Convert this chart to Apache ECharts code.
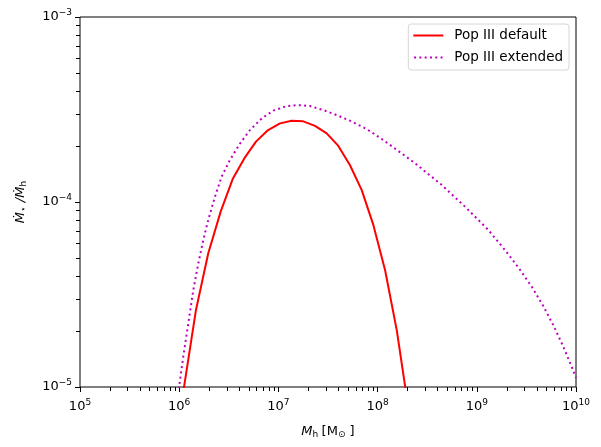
<!DOCTYPE html>
<html>
<head>
<meta charset="utf-8">
<script src="https://cdn.jsdelivr.net/npm/echarts@6/dist/echarts.min.js"></script>
<style>
  html, body { margin: 0; padding: 0; background: #fff; }
  #chart { width: 601px; height: 447px; }
</style>
</head>
<body>
<div id="chart"></div>
<script>
// halo mass [Msun] and Mdot_* / Mdot_h
var defaultMass = [9.0e5, 1.125e6, 1.476e6, 1.963e6, 2.618e6, 3.459e6, 4.529e6, 5.943e6, 7.727e6,
  1.038e7, 1.361e7, 1.782e7, 2.339e7, 3.069e7, 4.018e7, 5.272e7, 6.918e7, 9.057e7,
  1.189e8, 1.560e8, 1.888e8, 2.3e8];
var defaultRatio = [4.5e-6, 1.02e-5, 2.61e-5, 5.28e-5, 8.87e-5, 1.33e-4, 1.72e-4, 2.12e-4, 2.43e-4,
  2.66e-4, 2.75e-4, 2.73e-4, 2.58e-4, 2.35e-4, 2.01e-4, 1.58e-4, 1.16e-4, 7.52e-5,
  4.29e-5, 2.03e-5, 1.02e-5, 5.0e-6];

var extendedMass = [9.3e5, 1.002e6, 1.099e6, 1.236e6, 1.387e6, 1.560e6, 1.750e6, 1.963e6, 2.296e6,
  2.679e6, 3.251e6, 4.102e6, 5.176e6, 6.792e6, 8.892e6, 1.213e7, 1.589e7, 2.084e7,
  2.838e7, 3.873e7, 5.272e7, 7.762e7, 1.143e8, 1.750e8, 2.382e8, 4.325e8, 7.60e8,
  1.306e9, 1.968e9, 2.683e9, 3.599e9, 4.677e9, 5.900e9, 7.345e9, 8.974e9, 1.0e10];
var extendedRatio = [7.5e-6, 1.02e-5, 1.46e-5, 2.21e-5, 3.34e-5, 4.67e-5, 6.24e-5, 8.00e-5, 1.07e-4,
  1.37e-4, 1.69e-4, 2.07e-4, 2.45e-4, 2.83e-4, 3.12e-4, 3.30e-4, 3.34e-4, 3.30e-4,
  3.14e-4, 2.95e-4, 2.75e-4, 2.48e-4, 2.16e-4, 1.83e-4, 1.62e-4, 1.25e-4, 9.44e-5,
  7.06e-5, 5.42e-5, 4.36e-5, 3.47e-5, 2.74e-5, 2.16e-5, 1.68e-5, 1.30e-5, 1.12e-5];

var seriesNames = ['Pop III default', 'Pop III extended'];

// minor ticks (2..9 x each decade)
var xMinorTicks = [];
var yMinorTicks = [];
[1e5, 1e6, 1e7, 1e8, 1e9].forEach(function (d) {
  for (var k = 2; k <= 9; k++) xMinorTicks.push(k * d);
});
[1e-5, 1e-4].forEach(function (d) {
  for (var k = 2; k <= 9; k++) yMinorTicks.push(k * d);
});

var X_MIN = 1e5, X_MAX = 1e10, Y_MIN = 1e-5, Y_MAX = 1e-3;

function zip(a, b) {
  return a.map(function (v, i) { return [v, b[i]]; });
}

function powLabel(v) {
  var e = Math.round(Math.log10(v));
  var s = e < 0 ? '\u2212' + (-e) : '' + e;
  return '{b|10}{s|' + s + '}';
}

var font = 'DejaVu Sans';
var labelRich = {
  b: { fontFamily: font, fontSize: 13, color: '#000' },
  s: { fontFamily: font, fontSize: 9, color: '#000', padding: [0, 0, 8, 0] }
};

// dotted legend icon
var dots = 'path://';
for (var i = 0; i < 6; i++) {
  dots += 'M' + (i * 5.3).toFixed(1) + ',0h2v2h-2z';
}

var chart = echarts.init(document.getElementById('chart'), null, { renderer: 'canvas' });

var option = {
  backgroundColor: '#ffffff',
  animation: false,
  grid: {
    left: 80, right: 25, top: 17, bottom: 60,
    show: true, borderColor: '#000', borderWidth: 1, backgroundColor: 'transparent'
  },
  legend: {
    orient: 'vertical',
    right: 32,
    top: 24,
    itemWidth: 30,
    itemHeight: 2,
    itemGap: 7,
    padding: [4, 6, 5, 5],
    backgroundColor: '#fff',
    borderColor: '#d6d6d6',
    borderWidth: 1,
    borderRadius: 3,
    textStyle: { fontFamily: font, fontSize: 13.5, color: '#000', lineHeight: 15, padding: [0, 0, 0, 6] },
    data: [
      { name: seriesNames[0], icon: 'path://M0,0H30V2H0Z' },
      { name: seriesNames[1], icon: dots }
    ]
  },
  xAxis: {
    type: 'log', logBase: 10, min: X_MIN, max: X_MAX,
    name: '{i|M}{sub|h} {n|[M}{sub|\u2299}{n| ]}',
    nameLocation: 'middle', nameGap: 37,
    nameTextStyle: {
      rich: {
        i: { fontFamily: font, fontSize: 13, fontStyle: 'italic', color: '#000' },
        n: { fontFamily: font, fontSize: 13, color: '#000' },
        sub: { fontFamily: font, fontSize: 9, color: '#000', padding: [6, 0, 0, 0] }
      }
    },
    axisLine: { show: false },
    axisTick: { show: true, inside: false, length: 5, lineStyle: { color: '#000' } },
    axisLabel: { margin: 11, formatter: powLabel, rich: labelRich },
    splitLine: { show: false }
  },
  yAxis: {
    type: 'log', logBase: 10, min: Y_MIN, max: Y_MAX,
    name: '{i|M\u0307}{sub|\u22c6}{i| /M\u0307}{sub|h}',
    nameLocation: 'middle', nameGap: 52, nameRotate: 90,
    nameTextStyle: {
      rich: {
        i: { fontFamily: font, fontSize: 13, fontStyle: 'italic', color: '#000' },
        sub: { fontFamily: font, fontSize: 9, color: '#000', padding: [6, 0, 0, 0] }
      }
    },
    axisLine: { show: false },
    axisTick: { show: true, inside: false, length: 5, lineStyle: { color: '#000' } },
    axisLabel: { margin: 8, formatter: powLabel, rich: labelRich },
    splitLine: { show: false }
  },
  series: [{
    name: seriesNames[0],
    type: 'line',
    data: zip(defaultMass, defaultRatio),
    showSymbol: false,
    symbol: 'none',
    clip: true,
    color: '#ff0000',
    lineStyle: { color: '#ff0000', width: 2 }
  }, {
    name: seriesNames[1],
    type: 'line',
    data: zip(extendedMass, extendedRatio),
    showSymbol: false,
    symbol: 'none',
    clip: true,
    color: '#bf00bf',
    lineStyle: { color: '#bf00bf', width: 2, type: [2, 3.3], cap: 'butt' }
  }]
};

chart.setOption(option);

// minor ticks, placed through the axes' own scales
var ticks = [];
xMinorTicks.forEach(function (v) {
  var p = chart.convertToPixel({ gridIndex: 0 }, [v, Y_MIN]);
  ticks.push({ type: 'line',
    shape: { x1: Math.round(p[0]) + 0.5, y1: Math.round(p[1]), x2: Math.round(p[0]) + 0.5, y2: Math.round(p[1]) + 4 },
    style: { stroke: '#000', lineWidth: 1 } });
});
yMinorTicks.forEach(function (v) {
  var p = chart.convertToPixel({ gridIndex: 0 }, [X_MIN, v]);
  ticks.push({ type: 'line',
    shape: { x1: Math.round(p[0]) - 4, y1: Math.round(p[1]) + 0.5, x2: Math.round(p[0]), y2: Math.round(p[1]) + 0.5 },
    style: { stroke: '#000', lineWidth: 1 } });
});
chart.setOption({ graphic: { elements: ticks } });
</script>
</body>
</html>
